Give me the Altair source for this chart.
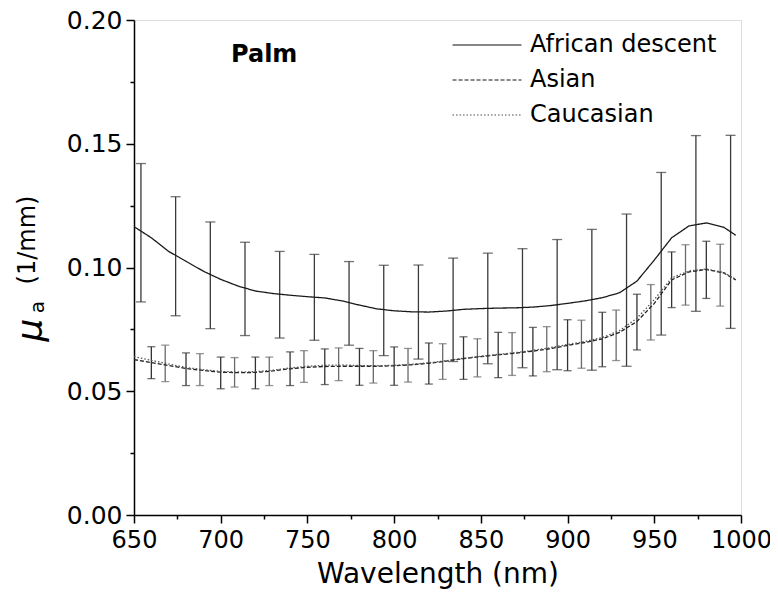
import altair as alt
import pandas as pd

# ---------------- data ----------------
series_names = ["African descent", "Asian", "Caucasian"]

wl_curve = [650, 660, 670, 680, 690, 700, 710, 720, 730, 740, 750, 760, 770, 780,
            790, 800, 810, 820, 830, 840, 850, 860, 870, 880, 890, 900, 910, 920,
            930, 940, 950, 960, 970, 980, 990, 997]

african = [0.1165, 0.1120, 0.1065, 0.1025, 0.0985, 0.0952, 0.0925, 0.0905, 0.0895,
           0.0888, 0.0882, 0.0877, 0.0865, 0.0848, 0.0833, 0.0825, 0.0821, 0.0820,
           0.0824, 0.0831, 0.0834, 0.0836, 0.0837, 0.0840, 0.0846, 0.0855, 0.0865,
           0.0878, 0.0898, 0.0945, 0.1030, 0.1120, 0.1168, 0.1180, 0.1163, 0.1130]

asian = [0.0628, 0.0616, 0.0604, 0.0592, 0.0584, 0.0577, 0.0575, 0.0576, 0.0582,
         0.0591, 0.0597, 0.0600, 0.0601, 0.0601, 0.0601, 0.0603, 0.0607, 0.0613,
         0.0622, 0.0632, 0.0640, 0.0647, 0.0654, 0.0662, 0.0672, 0.0685, 0.0697,
         0.0712, 0.0738, 0.0782, 0.0855, 0.0950, 0.0982, 0.0992, 0.0978, 0.0950]

caucasian = [0.0640, 0.0625, 0.0610, 0.0596, 0.0587, 0.0580, 0.0578, 0.0579, 0.0585,
             0.0594, 0.0601, 0.0605, 0.0606, 0.0604, 0.0603, 0.0605, 0.0609, 0.0615,
             0.0623, 0.0633, 0.0641, 0.0649, 0.0656, 0.0665, 0.0676, 0.0689, 0.0701,
             0.0717, 0.0745, 0.0795, 0.0870, 0.0958, 0.0986, 0.0994, 0.0980, 0.0952]

# error bars, African descent
wl_af_bar = [654, 674, 694, 714, 734, 754, 774, 794, 814, 834, 854, 874, 894, 914,
             934, 954, 974, 994]
af_hi = [0.1420, 0.1286, 0.1184, 0.1102, 0.1065, 0.1053, 0.1024, 0.1009, 0.1010,
         0.1038, 0.1058, 0.1076, 0.1113, 0.1154, 0.1216, 0.1384, 0.1533, 0.1534]
af_lo = [0.0861, 0.0805, 0.0753, 0.0725, 0.0715, 0.0706, 0.0686, 0.0644, 0.0630,
         0.0620, 0.0611, 0.0595, 0.0587, 0.0585, 0.0601, 0.0727, 0.0823, 0.0754]

# error bars, Asian
wl_as_bar = [660, 680, 700, 720, 740, 760, 780, 800, 820, 840, 860, 880, 900, 920,
             940, 960, 980]
as_hi = [0.0680, 0.0655, 0.0638, 0.0638, 0.0659, 0.0671, 0.0673, 0.0679, 0.0695,
         0.0720, 0.0738, 0.0758, 0.0789, 0.0819, 0.0892, 0.1063, 0.1106]
as_lo = [0.0551, 0.0523, 0.0510, 0.0510, 0.0523, 0.0527, 0.0524, 0.0524, 0.0529,
         0.0548, 0.0555, 0.0562, 0.0583, 0.0599, 0.0667, 0.0838, 0.0875]

# error bars, Caucasian
wl_ca_bar = [668, 688, 708, 728, 748, 768, 788, 808, 828, 848, 868, 888, 908, 928,
             948, 968, 988]
ca_hi = [0.0686, 0.0652, 0.0636, 0.0638, 0.0664, 0.0675, 0.0664, 0.0673, 0.0692,
         0.0712, 0.0737, 0.0761, 0.0787, 0.0828, 0.0931, 0.1092, 0.1094]
ca_lo = [0.0539, 0.0523, 0.0517, 0.0523, 0.0536, 0.0543, 0.0533, 0.0537, 0.0548,
         0.0558, 0.0564, 0.0579, 0.0593, 0.0624, 0.0707, 0.0848, 0.0844]

x_major = [650, 700, 750, 800, 850, 900, 950, 1000]
x_minor = [675, 725, 775, 825, 875, 925, 975]
y_major = [0.0, 0.05, 0.1, 0.15, 0.2]
y_minor = [0.025, 0.075, 0.125, 0.175]

# ---------------- tables ----------------
lines_df = pd.concat([
    pd.DataFrame({"wl": wl_curve, "mu": african, "series": series_names[0]}),
    pd.DataFrame({"wl": wl_curve, "mu": asian, "series": series_names[1]}),
    pd.DataFrame({"wl": wl_curve, "mu": caucasian, "series": series_names[2]}),
])

bars_df = pd.concat([
    pd.DataFrame({"wl": wl_af_bar, "lo": af_lo, "hi": af_hi, "col": "#3a3a3a", "cap": 10}),
    pd.DataFrame({"wl": wl_as_bar, "lo": as_lo, "hi": as_hi, "col": "#333333", "cap": 8}),
    pd.DataFrame({"wl": wl_ca_bar, "lo": ca_lo, "hi": ca_hi, "col": "#6a6a6a", "cap": 8}),
])
caps_df = pd.concat([
    bars_df[["wl", "lo", "col", "cap"]].rename(columns={"lo": "v"}),
    bars_df[["wl", "hi", "col", "cap"]].rename(columns={"hi": "v"}),
])
minor_df = pd.DataFrame({"wl": [650.0, 1000.0], "mu": [0.0, 0.2]})

FONT = "DejaVu Sans"

xscale = alt.Scale(domain=[650, 1000], nice=False, zero=False)
yscale = alt.Scale(domain=[0, 0.2], nice=False, zero=False)

common_axis = dict(
    grid=False, domainColor="black", domainWidth=1.5, tickColor="black",
    tickWidth=1.5, labelFont=FONT, labelColor="black",
    labelOverlap=False, labelFlush=False,
)

x_axis = alt.Axis(
    values=x_major, format="d", tickSize=8, orient="bottom", labelFontSize=24,
    title="Wavelength (nm)", titleFont=FONT, titleFontSize=28,
    titleFontWeight="normal", titleColor="black", titlePadding=8, labelPadding=5,
    **common_axis,
)
y_axis = alt.Axis(
    values=y_major, format=".2f", tickSize=8, orient="left", labelFontSize=25,
    title=None, labelPadding=4,
    **common_axis,
)
x_minor_axis = alt.Axis(values=x_minor, labels=False, domain=False, grid=False,
                        tickSize=4, tickWidth=1.5, tickColor="black", title=None,
                        orient="bottom")
y_minor_axis = alt.Axis(values=y_minor, labels=False, domain=False, grid=False,
                        tickSize=4, tickWidth=1.5, tickColor="black", title=None,
                        orient="left")

legend = alt.Legend(
    orient="none", legendX=341, legendY=13, title=None, padding=0,
    symbolType="M-5,0H5", symbolSize=190, symbolStrokeWidth=1.3,
    labelFont=FONT, labelFontSize=24, labelColor="black", labelOffset=31,
    rowPadding=11, labelLimit=400,
)

lines = alt.Chart(lines_df).mark_line(strokeWidth=1.3).encode(
    x=alt.X("wl:Q", scale=xscale, axis=x_axis),
    y=alt.Y("mu:Q", scale=yscale, axis=y_axis),
    color=alt.Color("series:N", scale=alt.Scale(domain=series_names,
                    range=["#1a1a1a", "#222222", "#555555"]), legend=legend),
    strokeDash=alt.StrokeDash("series:N", scale=alt.Scale(domain=series_names,
                    range=[[1, 0], [4, 2], [1.5, 2]]), legend=legend),
    detail="series:N",
)

minor = alt.Chart(minor_df).mark_point(opacity=0).encode(
    x=alt.X("wl:Q", scale=xscale, axis=x_minor_axis),
    y=alt.Y("mu:Q", scale=yscale, axis=y_minor_axis),
)

rules = alt.Chart(bars_df).mark_rule(strokeWidth=1.3).encode(
    x=alt.X("wl:Q", scale=xscale, axis=None),
    y=alt.Y("lo:Q", scale=yscale, axis=None),
    y2="hi:Q",
    color=alt.Color("col:N", scale=None),
)

caps = alt.Chart(caps_df).mark_tick(orient="horizontal", thickness=1.3).encode(
    x=alt.X("wl:Q", scale=xscale, axis=None),
    y=alt.Y("v:Q", scale=yscale, axis=None),
    color=alt.Color("col:N", scale=None),
    size=alt.Size("cap:Q", scale=None),
)

palm = alt.Chart(pd.DataFrame({"t": ["Palm"]})).mark_text(
    font=FONT, fontSize=24, fontWeight="bold", align="left", baseline="alphabetic",
    color="black").encode(x=alt.value(97), y=alt.value(42), text="t:N")

mu = alt.Chart(pd.DataFrame({"t": ["μ"]})).mark_text(
    font=FONT, fontSize=36, fontStyle="italic", angle=270, align="center",
    baseline="middle", color="black").encode(x=alt.value(-103), y=alt.value(310), text="t:N")
sub_a = alt.Chart(pd.DataFrame({"t": ["a"]})).mark_text(
    font=FONT, fontSize=20, angle=270, align="center",
    baseline="middle", color="black").encode(x=alt.value(-96), y=alt.value(287), text="t:N")
unit = alt.Chart(pd.DataFrame({"t": ["(1/mm)"]})).mark_text(
    font=FONT, fontSize=24, angle=270, align="center",
    baseline="middle", color="black").encode(x=alt.value(-106), y=alt.value(220), text="t:N")

chart = alt.layer(minor, rules, caps, lines, palm, mu, sub_a, unit).resolve_axis(
    x="independent", y="independent"
).properties(
    width=607, height=495,
    padding={"left": 126, "top": 12, "right": 29, "bottom": 85},
    autosize=alt.AutoSizeParams(type="none"),
).configure_view(stroke=None).configure(background="white")

chart.save("out.html", embed_options={"renderer": "svg", "actions": False})
